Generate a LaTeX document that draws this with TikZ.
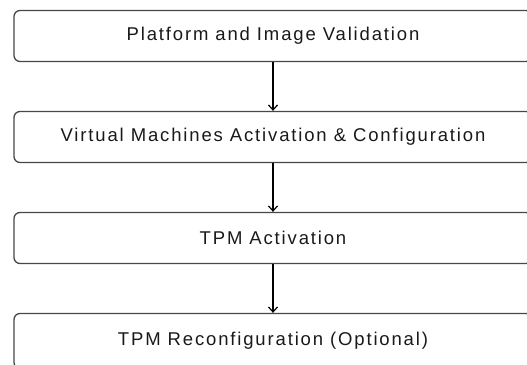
\documentclass[tikz,border=0pt]{standalone}
\usepackage{fontspec}
\setmainfont[LetterSpace=10]{Liberation Sans}
\usetikzlibrary{arrows.meta}
\begin{document}
\begin{tikzpicture}[x=1pt,y=1pt,
  stepbox/.style={draw=black!72, line width=1.3pt, rounded corners=6pt,
    minimum width=518pt, minimum height=51pt, inner sep=0pt,
    font=\fontsize{18.5}{22}\selectfont, text=black!90},
  flow/.style={draw=black, line width=1.2pt,
    -{Straight Barb[length=5pt,width=9pt,line width=1.2pt]}}]
  \useasboundingbox (0,0) rectangle (527,364);
  \node[stepbox] (s1) at (273,328) {Platform and Image Validation};
  \node[stepbox] (s2) at (273,227) {Virtual Machines Activation \& Configuration};
  \node[stepbox] (s3) at (273,126) {TPM Activation};
  \node[stepbox, minimum height=55pt] (s4) at (273,23) {TPM Reconfiguration (Optional)};
  \draw[flow] (s1) -- (s2);
  \draw[flow] (s2) -- (s3);
  \draw[flow] (s3) -- (s4);
\end{tikzpicture}
\end{document}
